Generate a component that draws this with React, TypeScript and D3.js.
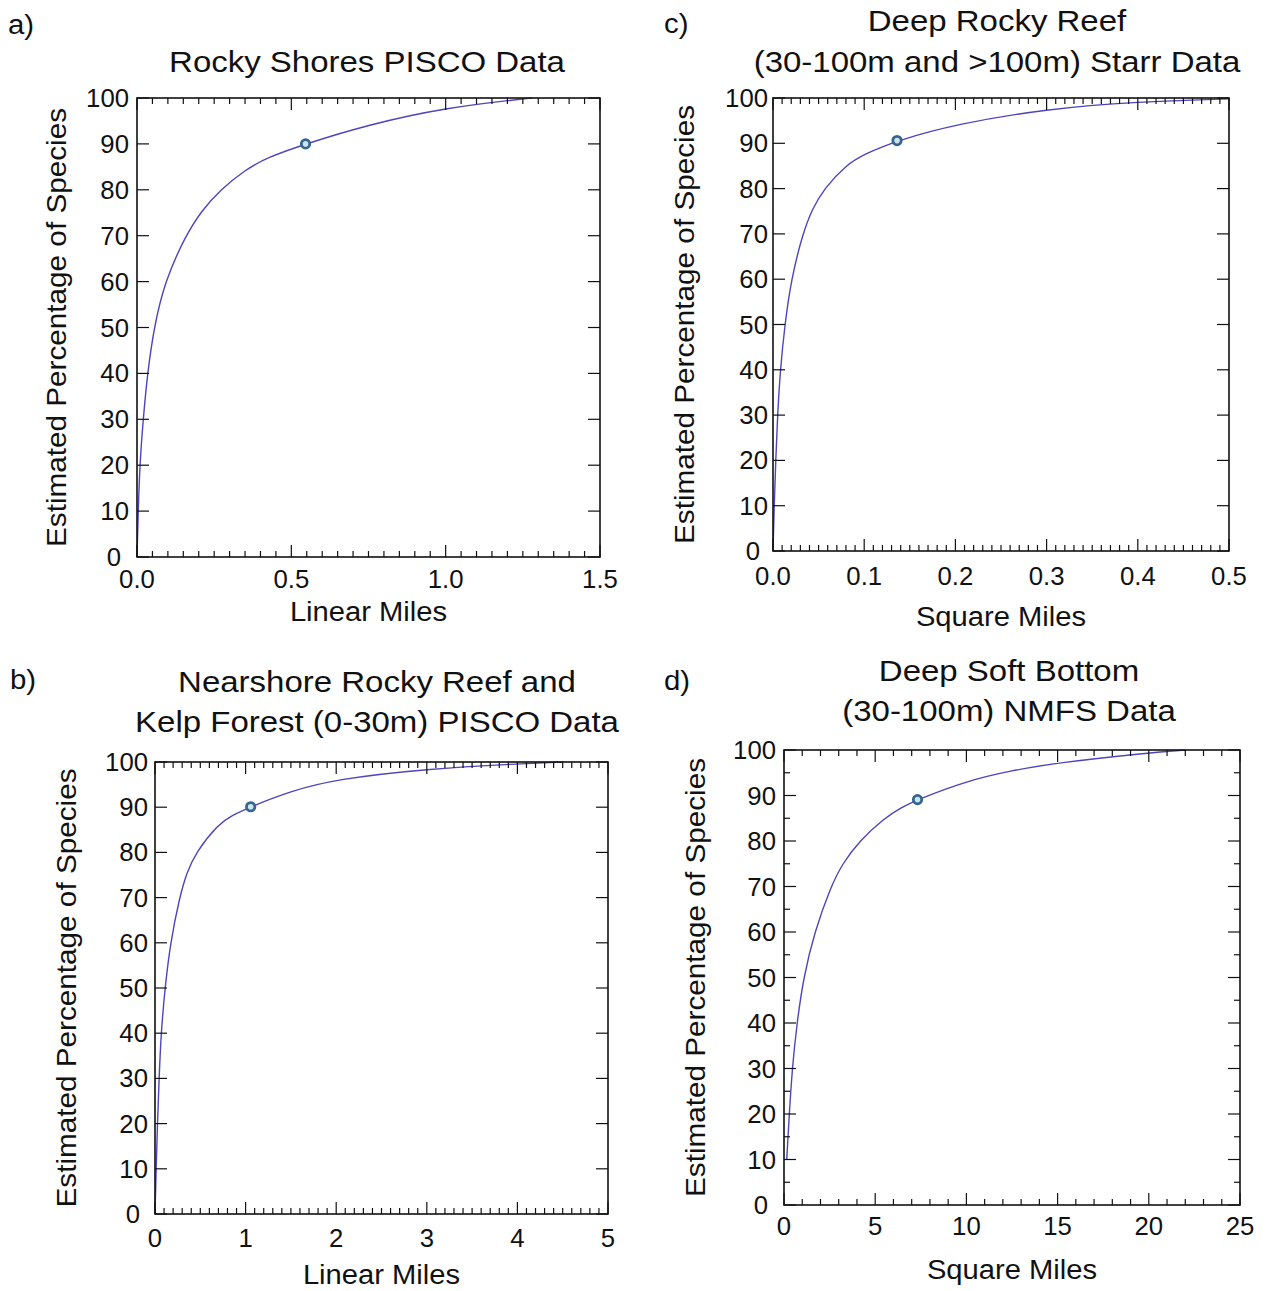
import React from 'react';
import * as d3 from 'd3';

const W = 1266;
const H = 1291;
const FONT = '"Liberation Sans", Arial, sans-serif';
const INK = '#111';
const LINE = '#4d45bb';

// a) Rocky Shores PISCO Data
const milesA = [0, 0.004, 0.009, 0.02, 0.034, 0.055, 0.09, 0.157, 0.21, 0.27, 0.35, 0.42, 0.546, 0.75, 1.0, 1.25, 1.28];
const pctA = [0, 10, 20, 30, 40, 50, 60, 70, 75.5, 80, 84.3, 87, 90, 94.2, 97.9, 99.8, 100];
const markA = [0.546, 90];
const xTicksA = [0, 0.5, 1.0, 1.5];

// b) Nearshore Rocky Reef and Kelp Forest
const milesB = [0, 0.013, 0.027, 0.045, 0.067, 0.11, 0.17, 0.27, 0.35, 0.45, 0.7, 0.85, 1.056, 1.5, 2, 3, 4, 4.5];
const pctB = [0, 10, 20, 30, 40, 50, 60, 70, 75.5, 80, 86.3, 88.2, 90.1, 93.6, 96.2, 98.5, 99.6, 100];
const markB = [1.056, 90.1];
const xTicksB = [0, 1, 2, 3, 4, 5];

// c) Deep Rocky Reef
const sqMilesC = [0, 0.0013, 0.003, 0.005, 0.008, 0.013, 0.02, 0.0325, 0.043, 0.056, 0.08, 0.1, 0.136, 0.2, 0.3, 0.4, 0.5];
const pctC = [0, 10, 20, 30, 40, 50, 60, 70, 75.5, 80, 85.2, 87.6, 90.6, 94.2, 97.6, 99.2, 99.8];
const markC = [0.136, 90.6];
const xTicksC = [0, 0.1, 0.2, 0.3, 0.4, 0.5];

// d) Deep Soft Bottom
const sqMilesD = [0.15, 0.29, 0.45, 0.71, 1.07, 1.67, 2.57, 3.2, 4.13, 5.5, 6.4, 7.32, 10, 12.5, 15, 20, 22];
const pctD = [10, 20, 30, 40, 50, 60, 70, 75, 80, 85, 87.3, 89.1, 93.2, 95.5, 97.2, 99.4, 100];
const markD = [7.32, 89.1];
const xTicksD = [0, 5, 10, 15, 20, 25];

const yTicks = [0, 10, 20, 30, 40, 50, 60, 70, 80, 90, 100];
const yTitle = 'Estimated Percentage of Species';

const panels = [
  {
    tag: 'a)', tagX: 8, tagY: 34,
    title: ['Rocky Shores PISCO Data'], titleX: 367, titleY: [72],
    box: { l: 137, r: 600, t: 98, b: 557 },
    xs: milesA, ys: pctA, mark: markA, xTicks: xTicksA, fmt: '.1f', minor: 30, yMinor: false,
    xLabel: 'Linear Miles', xTickY: 588, xLabelY: 621, yLabelX: 66, yLabelGap: 8,
  },
  {
    tag: 'c)', tagX: 664, tagY: 33,
    title: ['Deep Rocky Reef', '(30-100m and >100m) Starr Data'], titleX: 997, titleY: [31, 72],
    box: { l: 773, r: 1229, t: 98, b: 551 },
    xs: sqMilesC, ys: pctC, mark: markC, xTicks: xTicksC, fmt: '.1f', minor: 50, yMinor: false,
    xLabel: 'Square Miles', xTickY: 585, xLabelY: 626, yLabelX: 694, yLabelGap: 5,
  },
  {
    tag: 'b)', tagX: 10, tagY: 689,
    title: ['Nearshore Rocky Reef and', 'Kelp Forest (0-30m) PISCO Data'], titleX: 377, titleY: [692, 732],
    box: { l: 155, r: 608, t: 762, b: 1214 },
    xs: milesB, ys: pctB, mark: markB, xTicks: xTicksB, fmt: 'd', minor: 50, yMinor: false,
    xLabel: 'Linear Miles', xTickY: 1247, xLabelY: 1284, yLabelX: 76, yLabelGap: 7,
  },
  {
    tag: 'd)', tagX: 664, tagY: 690,
    title: ['Deep Soft Bottom', '(30-100m) NMFS Data'], titleX: 1009, titleY: [681, 721],
    box: { l: 784, r: 1240, t: 750, b: 1205 },
    xs: sqMilesD, ys: pctD, mark: markD, xTicks: xTicksD, fmt: 'd', minor: 25, yMinor: true,
    xLabel: 'Square Miles', xTickY: 1235, xLabelY: 1279, yLabelX: 705, yLabelGap: 8,
  },
];

// the original type is a little wider than Arial, so stretch along the text direction
const Txt = ({ x, y, size, sx = 1.05, anchor = 'middle', rotate = 0, children }: any) => (
  <text
    transform={`translate(${x},${y}) rotate(${rotate}) scale(${sx},1)`}
    fontSize={size}
    fontFamily={FONT}
    textAnchor={anchor}
    fill={INK}
  >
    {children}
  </text>
);

const Panel = ({ p }: any) => {
  const { box } = p;
  const x = d3.scaleLinear().domain([p.xTicks[0], p.xTicks[p.xTicks.length - 1]]).range([box.l, box.r]);
  const y = d3.scaleLinear().domain([0, 100]).range([box.b, box.t]);
  const fmt = d3.format(p.fmt);
  const pts = p.xs.map((v: number, i: number) => [v, p.ys[i]]);
  // B-spline smooths out the hand-read points like the original fitted curve
  const line = d3.line<number[]>()
    .x(d => x(d[0]))
    .y(d => y(d[1]))
    .curve(d3.curveBasis);

  const majorX = p.xTicks;
  const minorX = x.ticks(p.minor).filter((t: number) => !majorX.some((m: number) => Math.abs(m - t) < 1e-9));
  const minorY = p.yMinor ? y.ticks(20).filter((t: number) => t % 10 !== 0) : [];
  const big = 12;
  const small = 6;

  return (
    <g>
      <Txt x={p.tagX} y={p.tagY} size={28} anchor="start">{p.tag}</Txt>
      {p.title.map((t: string, i: number) => (
        <Txt key={t} x={p.titleX} y={p.titleY[i]} size={30} sx={1.1}>{t}</Txt>
      ))}

      {/* curve */}
      <path d={line(pts) || ''} fill="none" stroke={LINE} strokeWidth={1.4} />

      {/* ticks, inside on all four sides */}
      <g stroke={INK} strokeWidth={1.2}>
        {majorX.map((t: number) => (
          <g key={'mx' + t}>
            <line x1={x(t)} x2={x(t)} y1={box.b} y2={box.b - big} />
            <line x1={x(t)} x2={x(t)} y1={box.t} y2={box.t + big} />
          </g>
        ))}
        {minorX.map((t: number) => (
          <g key={'nx' + t}>
            <line x1={x(t)} x2={x(t)} y1={box.b} y2={box.b - small} />
            <line x1={x(t)} x2={x(t)} y1={box.t} y2={box.t + small} />
          </g>
        ))}
        {yTicks.map(t => (
          <g key={'my' + t}>
            <line x1={box.l} x2={box.l + big} y1={y(t)} y2={y(t)} />
            <line x1={box.r} x2={box.r - big} y1={y(t)} y2={y(t)} />
          </g>
        ))}
        {minorY.map((t: number) => (
          <g key={'ny' + t}>
            <line x1={box.l} x2={box.l + small} y1={y(t)} y2={y(t)} />
            <line x1={box.r} x2={box.r - small} y1={y(t)} y2={y(t)} />
          </g>
        ))}
      </g>

      <rect x={box.l} y={box.t} width={box.r - box.l} height={box.b - box.t} fill="none" stroke={INK} strokeWidth={1.6} />

      {/* estimated point */}
      <circle cx={x(p.mark[0])} cy={y(p.mark[1])} r={4.2} fill="#cfe2ef" stroke="#32668f" strokeWidth={2.8} />

      {/* tick labels */}
      {majorX.map((t: number) => (
        <Txt key={'lx' + t} x={x(t)} y={p.xTickY} size={25} sx={1.03}>{fmt(t)}</Txt>
      ))}
      {yTicks.map(t => (
        <Txt
          key={'ly' + t}
          x={box.l - p.yLabelGap - (t === 0 ? 8 : 0)}
          y={y(t) + 9}
          size={25}
          sx={1.03}
          anchor="end"
        >
          {t}
        </Txt>
      ))}

      <Txt x={(box.l + box.r) / 2} y={p.xLabelY} size={27} sx={1.08}>{p.xLabel}</Txt>
      <Txt x={p.yLabelX} y={(box.t + box.b) / 2} size={27} sx={1.1} rotate={-90}>{yTitle}</Txt>
    </g>
  );
};

export default function App() {
  return (
    <div style={{ position: 'absolute', left: 0, top: 0, background: '#fff' }}>
      <svg width={W} height={H} viewBox={`0 0 ${W} ${H}`} style={{ display: 'block' }}>
        <rect width={W} height={H} fill="#fff" />
        {panels.map(p => <Panel key={p.tag} p={p} />)}
      </svg>
    </div>
  );
}
